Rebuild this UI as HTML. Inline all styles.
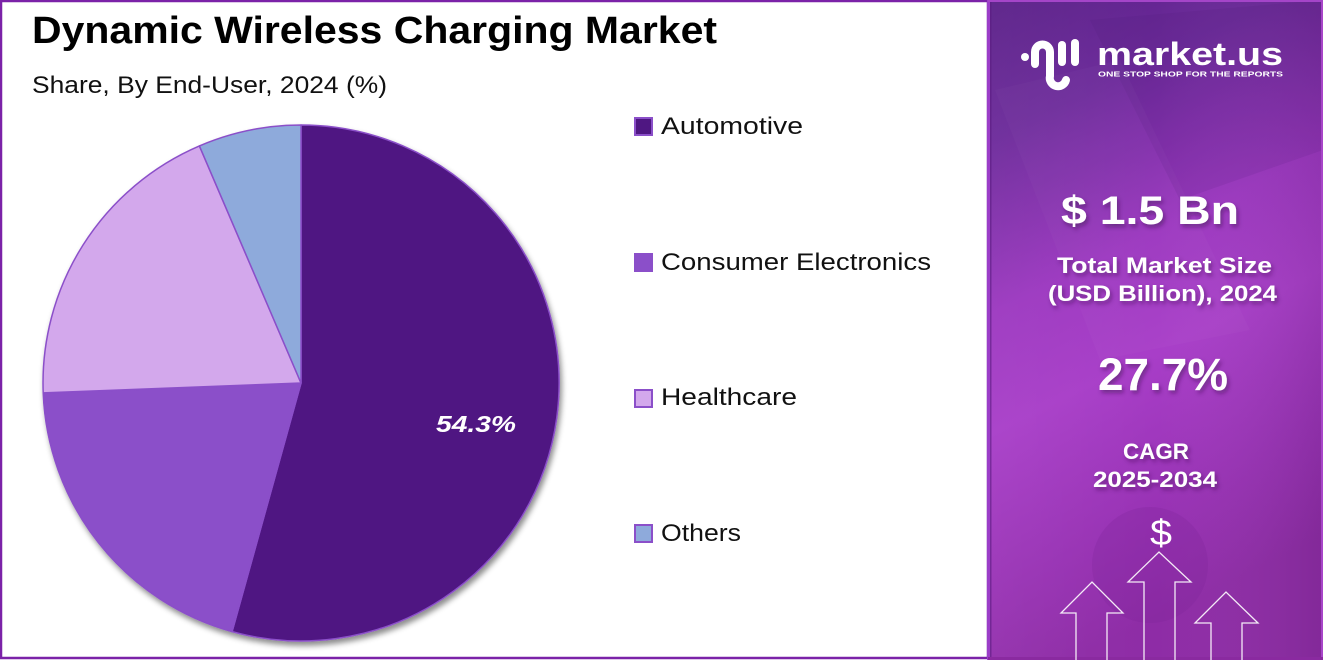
<!DOCTYPE html>
<html>
<head>
<meta charset="utf-8">
<style>
  html,body{margin:0;padding:0;background:#fff;}
  svg{display:block;}
  text{font-family:"Liberation Sans", Arial, sans-serif;}
</style>
</head>
<body>
<svg width="1323" height="660" viewBox="0 0 1323 660" xmlns="http://www.w3.org/2000/svg">
  <defs>
    <linearGradient id="bgR" x1="0" y1="0" x2="0.25" y2="1">
      <stop offset="0" stop-color="#5a2088"/>
      <stop offset="0.2" stop-color="#6c2a9a"/>
      <stop offset="0.45" stop-color="#9c38c0"/>
      <stop offset="0.62" stop-color="#a83ec8"/>
      <stop offset="0.85" stop-color="#9832b4"/>
      <stop offset="1" stop-color="#8e2ca6"/>
    </linearGradient>
    <linearGradient id="sheen" x1="0" y1="0" x2="1" y2="0">
      <stop offset="0" stop-color="#ffffff" stop-opacity="0.04"/>
      <stop offset="0.5" stop-color="#ffffff" stop-opacity="0"/>
      <stop offset="1" stop-color="#000000" stop-opacity="0.08"/>
    </linearGradient>
    <filter id="sh" x="-10%" y="-10%" width="120%" height="120%">
      <feDropShadow dx="2" dy="4" stdDeviation="3" flood-color="#000" flood-opacity="0.45"/>
    </filter>
    <filter id="tsh" x="-10%" y="-20%" width="130%" height="150%">
      <feDropShadow dx="2" dy="3" stdDeviation="2" flood-color="#3a0a50" flood-opacity="0.5"/>
    </filter>
  </defs>

  <!-- left white panel -->
  <rect x="0" y="0" width="988" height="660" fill="#ffffff"/>
  <rect x="1" y="1" width="987" height="657" fill="none" stroke="#7b22a8" stroke-width="2.5"/>

  <!-- title -->
  <text x="32" y="43" font-size="38" font-weight="bold" fill="#000" textLength="685" lengthAdjust="spacingAndGlyphs">Dynamic Wireless Charging Market</text>
  <text x="32" y="93" font-size="24" fill="#111" textLength="355" lengthAdjust="spacingAndGlyphs">Share, By End-User, 2024 (%)</text>

  <!-- pie -->
  <g filter="url(#sh)" stroke="#8b4fc9" stroke-width="1.5" stroke-linejoin="round">
    <path d="M301,383 L301,125 A258,258 0 1 1 232.1,631.6 Z" fill="#4f1782"/>
    <path d="M301,383 L232.1,631.6 A258,258 0 0 1 43.2,392.9 Z" fill="#8b4fc9"/>
    <path d="M301,383 L43.2,392.9 A258,258 0 0 1 199.4,145.9 Z" fill="#d3a8ec"/>
    <path d="M301,383 L199.4,145.9 A258,258 0 0 1 301,125 Z" fill="#8eaadb"/>
  </g>
  <text x="436" y="432" font-size="23" font-weight="bold" font-style="italic" fill="#fff" textLength="80" lengthAdjust="spacingAndGlyphs">54.3%</text>

  <!-- legend -->
  <g stroke="#8b4fc9" stroke-width="2">
    <rect x="635" y="118" width="17" height="17" fill="#4f1782"/>
    <rect x="635" y="254" width="17" height="17" fill="#8b4fc9"/>
    <rect x="635" y="390" width="17" height="17" fill="#d3a8ec"/>
    <rect x="635" y="525" width="17" height="17" fill="#8eaadb"/>
  </g>
  <g font-size="24" fill="#111">
    <text x="661" y="134" textLength="142" lengthAdjust="spacingAndGlyphs">Automotive</text>
    <text x="661" y="270" textLength="270" lengthAdjust="spacingAndGlyphs">Consumer Electronics</text>
    <text x="661" y="405" textLength="136" lengthAdjust="spacingAndGlyphs">Healthcare</text>
    <text x="661" y="541" textLength="80" lengthAdjust="spacingAndGlyphs">Others</text>
  </g>

  <!-- right panel -->
  <rect x="988" y="0" width="335" height="660" fill="url(#bgR)"/>
  <rect x="988" y="0" width="335" height="660" fill="url(#sheen)"/>
  <!-- faint backdrop shapes -->
  <path d="M1090,20 L1323,0 L1323,150 L1180,200 Z" fill="#4a1670" opacity="0.12"/>
  <path d="M995,90 L1120,60 L1250,330 L1100,360 Z" fill="#ffffff" opacity="0.025"/>
  <circle cx="1150" cy="565" r="58" fill="#7a2498" opacity="0.25"/>
  <!-- panel borders -->
  <rect x="987" y="0" width="3" height="660" fill="#9b3dc8"/>
  <rect x="990" y="0" width="1.5" height="660" fill="#5a1a80" opacity="0.6"/>
  <rect x="988" y="0" width="335" height="2" fill="#a445c8"/>
  <rect x="1321" y="0" width="2" height="660" fill="#a845c8"/>
  <rect x="988" y="657" width="335" height="3" fill="#8a2aa0"/>

  <!-- logo -->
  <g fill="none" stroke="#fff" stroke-width="8" stroke-linecap="round">
    <path d="M1035,64 L1035,52 A7.5,7.5 0 0 1 1050,52 L1050,76 A8,8 0 0 0 1066,80"/>
    <path d="M1062,45 L1062,62"/>
    <path d="M1075,43 L1075,62"/>
  </g>
  <circle cx="1025" cy="57" r="4" fill="#fff"/>
  <text x="1097" y="65" font-size="32" font-weight="bold" fill="#fff" textLength="186" lengthAdjust="spacingAndGlyphs">market.us</text>
  <text x="1098" y="76.5" font-size="7.5" font-weight="bold" fill="#fff" textLength="185" lengthAdjust="spacingAndGlyphs">ONE STOP SHOP FOR THE REPORTS</text>

  <!-- stats -->
  <g fill="#fff" font-weight="bold" filter="url(#tsh)">
    <text x="1061" y="224" font-size="40" textLength="178" lengthAdjust="spacingAndGlyphs">$ 1.5 Bn</text>
    <text x="1057" y="273" font-size="22" textLength="215" lengthAdjust="spacingAndGlyphs">Total Market Size</text>
    <text x="1048" y="301" font-size="22" textLength="229" lengthAdjust="spacingAndGlyphs">(USD Billion), 2024</text>
    <text x="1098" y="390" font-size="45" textLength="130" lengthAdjust="spacingAndGlyphs">27.7%</text>
    <text x="1123" y="459" font-size="22" textLength="66" lengthAdjust="spacingAndGlyphs">CAGR</text>
    <text x="1093" y="487" font-size="22" textLength="124" lengthAdjust="spacingAndGlyphs">2025-2034</text>
  </g>
  <text x="1150" y="545" font-size="36" fill="#fff" textLength="22" lengthAdjust="spacingAndGlyphs">$</text>

  <!-- arrows -->
  <g fill="none" stroke="#ffffff" stroke-width="1.3" opacity="0.9">
    <path d="M1076,660 L1076,613 L1061,613 L1092,582 L1123,613 L1107,613 L1107,660"/>
    <path d="M1144,660 L1144,582 L1128,582 L1159,552 L1191,582 L1175,582 L1175,660"/>
    <path d="M1211,660 L1211,623 L1195,623 L1226,592 L1258,623 L1242,623 L1242,660"/>
  </g>
</svg>
</body>
</html>
